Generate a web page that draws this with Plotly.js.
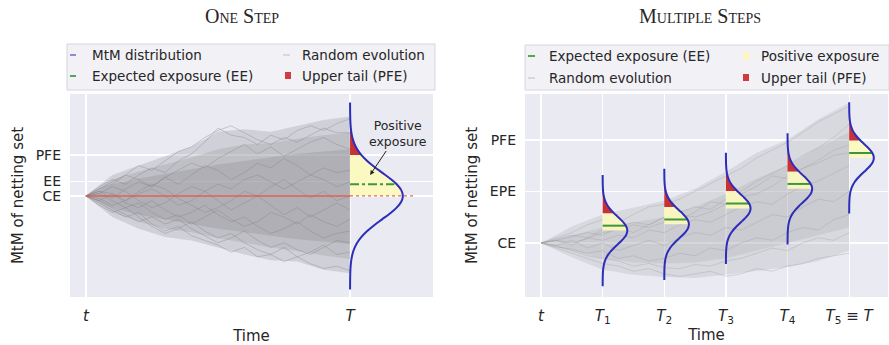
<!DOCTYPE html>
<html><head><meta charset="utf-8">
<script src="https://cdn.plot.ly/plotly-3.0.1.min.js"></script>
<style>html,body{margin:0;padding:0;background:#fff}</style>
</head><body><div id="chart" style="width:889px;height:345px"></div>
<script>
// ---------- DATA ----------
// distribution shape (relative density) on a standardised grid
const curveZ = [-4,-3.75,-3.5,-3.25,-3,-2.75,-2.5,-2.25,-2,-1.75,-1.5,-1.25,-1,-0.75,-0.5,-0.25,0,0.25,0.5,0.75,1,1.25,1.5,1.75,2,2.25,2.5,2.75,3,3.25,3.5,3.75,4];
const curveShape = [0.0003,0.0009,0.0022,0.0051,0.0111,0.0228,0.0439,0.0796,0.1353,0.2163,0.3247,0.4578,0.6065,0.7548,0.8825,0.9692,1,0.9692,0.8825,0.7548,0.6065,0.4578,0.3247,0.2163,0.1353,0.0796,0.0439,0.0228,0.0111,0.0051,0.0022,0.0009,0.0003];

// One step panel
const leftTickVals = [0, 0.62, 1.75];
const leftTickText = ['CE', 'EE', 'PFE'];
const leftTimeTicks = [0, 1];
const leftTimeText = ['<i>t</i>', '<i>T</i>'];
const leftTime = [0,0.1,0.2,0.3,0.4,0.5,0.6,0.7,0.8,0.9,1];
const leftOuterTop = [0,0.9,1.3,1.7,2.1,2.75,2.85,2.75,3.0,3.25,3.4];
const leftOuterBot = [0,-0.9,-1.4,-1.75,-1.9,-2.2,-2.5,-2.75,-2.8,-3.15,-3.3];
const leftMidTop = [0,0.7,1.05,1.35,1.65,2.0,2.2,2.25,2.45,2.6,2.7];
const leftMidBot = [0,-0.7,-1.1,-1.4,-1.55,-1.8,-2.0,-2.2,-2.35,-2.55,-2.7];
const leftCoreTop = [0,0.5,0.75,0.95,1.15,1.35,1.5,1.65,1.8,1.9,2.0];
const leftCoreBot = [0,-0.5,-0.8,-1.0,-1.2,-1.4,-1.55,-1.7,-1.85,-1.95,-2.05];
const leftPathTime = [0,0.05,0.1,0.15,0.2,0.25,0.3,0.35,0.4,0.45,0.5,0.55,0.6,0.65,0.7,0.75,0.8,0.85,0.9,0.95,1];
const leftPaths = [
  [0,0.4,0.7,0.5,0.9,1.2,1.0,1.5,1.8,2.3,2.9,2.6,2.5,2.2,2.6,2.4,2.8,3.0,2.8,3.1,3.3],
  [0,-0.3,-0.6,-0.9,-0.7,-1.2,-1.5,-1.3,-1.7,-1.9,-2.1,-2.4,-2.2,-2.6,-2.5,-2.8,-2.6,-2.9,-3.1,-3.0,-3.2],
  [0,0.2,-0.1,0.3,0.6,0.4,0.8,0.5,0.9,1.3,1.1,0.7,1.0,1.4,1.2,1.6,1.3,0.9,1.2,1.0,1.1],
  [0,-0.2,0.1,-0.3,-0.5,-0.2,-0.6,-0.9,-0.7,-0.4,-0.8,-1.1,-0.9,-1.3,-1.6,-1.4,-1.1,-1.5,-1.8,-1.6,-1.5],
  [0,0.3,0.5,0.9,0.7,0.4,0.8,1.1,1.4,1.2,1.6,1.9,2.2,1.8,2.1,1.7,2.0,2.3,2.5,2.2,2.0],
  [0,-0.4,-0.7,-0.5,-0.9,-1.3,-1.6,-1.4,-1.1,-1.5,-1.8,-1.6,-2.0,-2.3,-2.5,-2.2,-2.6,-2.4,-2.1,-2.5,-2.4],
  [0,0.1,0.4,0.2,-0.2,-0.5,-0.3,0.1,0.4,0.2,-0.2,-0.6,-0.3,0.0,0.4,0.7,0.3,-0.1,0.2,-0.2,0.0],
  [0,-0.1,-0.4,-0.2,0.2,0.5,0.3,-0.1,-0.4,-0.7,-0.5,-0.2,0.2,0.0,-0.4,-0.8,-0.5,-0.9,-0.6,-0.3,-0.6],
  [0,0.3,0.6,0.9,1.3,1.1,1.5,1.9,2.1,2.5,2.8,3.0,2.7,2.4,2.2,2.5,2.3,2.6,2.9,2.7,2.7],
  [0,-0.2,-0.5,-0.8,-1.1,-0.9,-1.2,-1.0,-1.4,-1.7,-2.0,-1.8,-1.5,-1.9,-2.2,-2.0,-2.3,-2.5,-2.2,-1.9,-2.0],
  [0,0.2,0.1,-0.2,0.1,0.3,0.0,-0.4,-0.2,0.2,0.5,0.3,0.7,0.9,0.6,0.3,0.6,0.9,0.7,0.4,0.6],
  [0,0.1,-0.2,-0.5,-0.3,-0.7,-1.0,-0.8,-1.2,-0.9,-0.6,-1.0,-1.3,-1.1,-0.7,-0.9,-1.2,-0.8,-1.1,-1.3,-1.0]
];
const leftDistTime = 1;
const leftDistMean = 0;
const leftDistSpread = 1;
const leftPFEz = 1.75;
const leftEEz = 0.5;
const leftCE = 0;

// Multiple steps panel
const rightTickVals = [0, 1, 2];
const rightTickText = ['CE', 'EPE', 'PFE'];
const rightTimeTicks = [0, 1, 2, 3, 4, 5];
const rightTimeText = ['<i>t</i>', '<i>T</i><sub>1</sub>', '<i>T</i><sub>2</sub>', '<i>T</i><sub>3</sub>', '<i>T</i><sub>4</sub>', '<i>T</i><sub>5</sub> ≡ <i>T</i>'];
const rightTime = [0,0.5,1,1.5,2,2.5,3,3.5,4,4.5,5];
const rightOuterTop = [0,0.32,0.55,0.68,0.82,1.05,1.38,1.75,2.0,2.4,2.72];
const rightOuterBot = [0,-0.28,-0.52,-0.62,-0.66,-0.68,-0.62,-0.55,-0.47,-0.35,-0.15];
const rightCoreTop = [0,0.15,0.3,0.4,0.5,0.7,0.95,1.25,1.5,1.85,2.15];
const rightCoreBot = [0,-0.15,-0.3,-0.38,-0.4,-0.38,-0.3,-0.15,0.0,0.15,0.3];
const rightPathTime = [0,0.25,0.5,0.75,1,1.25,1.5,1.75,2,2.25,2.5,2.75,3,3.25,3.5,3.75,4,4.25,4.5,4.75,5];
const rightPaths = [
  [0,0.1,0.2,0.35,0.45,0.4,0.55,0.7,0.75,0.85,1.0,1.15,1.3,1.45,1.65,1.8,1.95,2.15,2.35,2.5,2.65],
  [0,-0.1,-0.2,-0.3,-0.4,-0.45,-0.55,-0.5,-0.6,-0.65,-0.6,-0.55,-0.65,-0.6,-0.5,-0.55,-0.45,-0.4,-0.3,-0.25,-0.2],
  [0,0.05,-0.05,0.1,0.05,0.15,0.1,0.25,0.2,0.35,0.45,0.4,0.55,0.7,0.8,0.75,0.95,1.1,1.2,1.35,1.5],
  [0,-0.05,0.05,-0.1,0.0,-0.15,-0.05,0.05,-0.05,0.1,0.2,0.15,0.3,0.25,0.4,0.55,0.5,0.7,0.85,0.8,1.0],
  [0,0.08,0.15,0.1,0.25,0.3,0.2,0.35,0.5,0.45,0.6,0.8,0.75,0.95,1.1,1.3,1.25,1.45,1.6,1.8,1.9],
  [0,-0.08,-0.12,-0.2,-0.15,-0.3,-0.25,-0.35,-0.3,-0.2,-0.25,-0.1,-0.15,0.0,0.1,0.05,0.2,0.3,0.25,0.45,0.55],
  [0,0.05,0.12,0.2,0.15,0.3,0.4,0.35,0.5,0.6,0.7,0.65,0.85,1.0,1.2,1.35,1.5,1.7,1.85,2.05,2.3],
  [0,-0.06,-0.15,-0.25,-0.3,-0.35,-0.45,-0.4,-0.48,-0.5,-0.42,-0.45,-0.35,-0.3,-0.2,-0.1,-0.15,0.0,0.1,0.05,0.2],
  [0,0.05,0.0,0.08,0.2,0.25,0.35,0.3,0.4,0.55,0.5,0.6,0.75,0.9,0.95,1.1,1.3,1.45,1.55,1.7,1.75]
];
const rightDistTimes = [1, 2, 3, 4, 5];
const rightDistMeans = [0.24, 0.36, 0.67, 1.05, 1.65];
const rightDistSpread = 0.27;
const rightPFEz = 1.25;
const rightEEz = 0.35;

// ---------- STYLE ----------
const W = 889, H = 345;
const FONT = 'DejaVu Sans';
const TXT = '#262626';
const BG = '#eaeaf2';
const BLUE = 'rgb(45,45,185)';
const GREEN = 'rgb(60,150,60)';
const RED = 'rgb(200,50,55)';
const YELLOW = 'rgba(253,248,190,0.92)';
const leftCurveW = 0.2, rightCurveW = 0.4;

function shapeAt(z) {
  if (z <= curveZ[0]) return curveShape[0];
  for (let i = 0; i < curveZ.length - 1; i++) {
    if (z >= curveZ[i] && z <= curveZ[i + 1]) {
      const f = (z - curveZ[i]) / (curveZ[i + 1] - curveZ[i]);
      return curveShape[i] + f * (curveShape[i + 1] - curveShape[i]);
    }
  }
  return curveShape[curveShape.length - 1];
}
function region(base, mean, s, w, z0, z1) {
  const xs = [base, base + w * shapeAt(z0)], ys = [mean + s * z0, mean + s * z0];
  curveZ.forEach((z, i) => { if (z > z0 && z < z1) { xs.push(base + w * curveShape[i]); ys.push(mean + s * z); } });
  xs.push(base + w * shapeAt(z1), base); ys.push(mean + s * z1, mean + s * z1);
  return { xs, ys };
}
function bandTrace(t, top, bot, color, xa, ya) {
  return { type: 'scatter', mode: 'lines', x: t.concat(t.slice().reverse()), y: top.concat(bot.slice().reverse()),
    fill: 'toself', fillcolor: color, line: { width: 0 }, hoverinfo: 'skip', showlegend: false, xaxis: xa, yaxis: ya };
}
function fillTrace(r, color, xa, ya) {
  return { type: 'scatter', mode: 'lines', x: r.xs, y: r.ys, fill: 'toself', fillcolor: color,
    line: { width: 0 }, hoverinfo: 'skip', showlegend: false, xaxis: xa, yaxis: ya };
}

const traces = [];
// left cloud
traces.push(bandTrace(leftTime, leftOuterTop, leftOuterBot, 'rgba(150,150,155,0.30)', 'x', 'y'));
traces.push(bandTrace(leftTime, leftMidTop, leftMidBot, 'rgba(140,140,145,0.25)', 'x', 'y'));
traces.push(bandTrace(leftTime, leftCoreTop, leftCoreBot, 'rgba(130,130,135,0.26)', 'x', 'y'));
leftPaths.forEach(p => traces.push({ type: 'scatter', mode: 'lines', x: leftPathTime, y: p,
  line: { color: 'rgba(125,125,130,0.45)', width: 0.8 }, hoverinfo: 'skip', showlegend: false, xaxis: 'x', yaxis: 'y' }));
// left distribution fills
traces.push(fillTrace(region(leftDistTime, leftDistMean, leftDistSpread, leftCurveW, 0, leftPFEz), YELLOW, 'x', 'y'));
traces.push(fillTrace(region(leftDistTime, leftDistMean, leftDistSpread, leftCurveW, leftPFEz, 4), RED, 'x', 'y'));
// CE line
traces.push({ type: 'scatter', mode: 'lines', x: [0, leftDistTime], y: [leftCE, leftCE],
  line: { color: 'rgba(225,85,75,0.9)', width: 1.4 }, hoverinfo: 'skip', showlegend: false, xaxis: 'x', yaxis: 'y' });
traces.push({ type: 'scatter', mode: 'lines', x: [leftDistTime, leftDistTime + 0.25], y: [leftCE, leftCE],
  line: { color: 'rgba(225,85,75,0.9)', width: 1.2, dash: 'dot' }, hoverinfo: 'skip', showlegend: false, xaxis: 'x', yaxis: 'y' });
// EE
const leftEEy = leftDistMean + leftDistSpread * leftEEz;
traces.push({ type: 'scatter', mode: 'lines', x: [leftDistTime, leftDistTime + leftCurveW * shapeAt(leftEEz) * 0.95], y: [leftEEy, leftEEy],
  line: { color: GREEN, width: 2, dash: 'dashdot' }, hoverinfo: 'skip', showlegend: false, xaxis: 'x', yaxis: 'y' });
// blue curve
traces.push({ type: 'scatter', mode: 'lines', x: curveShape.map(v => leftDistTime + leftCurveW * v),
  y: curveZ.map(z => leftDistMean + leftDistSpread * z), line: { color: BLUE, width: 2, shape: 'spline' },
  hoverinfo: 'skip', showlegend: false, xaxis: 'x', yaxis: 'y' });

// right cloud
traces.push(bandTrace(rightTime, rightOuterTop, rightOuterBot, 'rgba(170,170,175,0.28)', 'x2', 'y2'));
traces.push(bandTrace(rightTime, rightCoreTop, rightCoreBot, 'rgba(160,160,165,0.22)', 'x2', 'y2'));
rightPaths.forEach(p => traces.push({ type: 'scatter', mode: 'lines', x: rightPathTime, y: p,
  line: { color: 'rgba(150,150,155,0.40)', width: 0.8 }, hoverinfo: 'skip', showlegend: false, xaxis: 'x2', yaxis: 'y2' }));
rightDistTimes.forEach((tt, k) => {
  const m = rightDistMeans[k], s = rightDistSpread;
  traces.push(fillTrace(region(tt, m, s, rightCurveW, 0, rightPFEz), YELLOW, 'x2', 'y2'));
  traces.push(fillTrace(region(tt, m, s, rightCurveW, rightPFEz, 4), RED, 'x2', 'y2'));
  const ey = m + s * rightEEz;
  traces.push({ type: 'scatter', mode: 'lines', x: [tt, tt + rightCurveW * shapeAt(rightEEz)], y: [ey, ey],
    line: { color: GREEN, width: 2 }, hoverinfo: 'skip', showlegend: false, xaxis: 'x2', yaxis: 'y2' });
  traces.push({ type: 'scatter', mode: 'lines', x: curveShape.map(v => tt + rightCurveW * v),
    y: curveZ.map(z => m + s * z), line: { color: BLUE, width: 2, shape: 'spline' },
    hoverinfo: 'skip', showlegend: false, xaxis: 'x2', yaxis: 'y2' });
});

// ---------- LAYOUT ----------
const px = v => v / W, py = v => (H - v) / H;
const yDom = [py(297), py(94)];
function xax(dom, range, tv, tt, standoff) {
  return { domain: dom, range: range, tickvals: tv, ticktext: tt, showgrid: true, gridcolor: '#ffffff', gridwidth: 1.3,
    zeroline: false, showline: false, ticks: '', fixedrange: true,
    tickfont: { family: FONT, size: 15, color: TXT }, ticklabelstandoff: 8,
    title: { text: 'Time', font: { family: FONT, size: 15, color: TXT }, standoff: standoff } };
}
function yax(anchor, range, tv, tt) {
  return { domain: yDom, anchor: anchor, range: range, tickvals: tv, ticktext: tt, showgrid: true, gridcolor: '#ffffff', gridwidth: 1.3,
    zeroline: false, showline: false, ticks: '', fixedrange: true,
    tickfont: { family: FONT, size: 14, color: TXT }, ticklabelstandoff: 8,
    title: { text: 'MtM of netting set', font: { family: FONT, size: 15, color: TXT }, standoff: 8 } };
}

const shapes = [];
const annotations = [];
function legendBox(x0, x1, y0, y1) {
  shapes.push({ type: 'rect', xref: 'paper', yref: 'paper', x0: px(x0), x1: px(x1), y0: py(y1), y1: py(y0),
    fillcolor: 'rgba(240,240,246,0.95)', line: { color: 'rgb(214,214,222)', width: 1 }, layer: 'above' });
}
function legDash(x0, x1, y, color) {
  shapes.push({ type: 'line', xref: 'paper', yref: 'paper', x0: px(x0), x1: px(x1), y0: py(y), y1: py(y),
    line: { color: color, width: 2 }, layer: 'above' });
}
function legRect(x0, x1, y0, y1, color) {
  shapes.push({ type: 'rect', xref: 'paper', yref: 'paper', x0: px(x0), x1: px(x1), y0: py(y1), y1: py(y0),
    fillcolor: color, line: { width: 0 }, layer: 'above' });
}
function legText(x, y, text) {
  annotations.push({ xref: 'paper', yref: 'paper', x: px(x), y: py(y), xanchor: 'left', yanchor: 'middle',
    text: text, showarrow: false, font: { family: FONT, size: 13.5, color: TXT } });
}
// left legend
legendBox(67, 435, 44, 90);
legDash(70, 76, 55, 'rgb(140,140,215)'); legText(90, 55, 'MtM distribution');
legDash(70, 76, 76, 'rgb(85,165,85)'); legText(90, 76, 'Expected exposure (EE)');
legDash(283, 290, 55, 'rgb(215,215,222)'); legText(300, 55, 'Random evolution');
legRect(285, 291, 72, 79, 'rgb(205,60,65)'); legText(300, 76, 'Upper tail (PFE)');
// right legend
legendBox(525, 889, 45, 90);
legDash(528, 535, 56, 'rgb(85,165,85)'); legText(547, 56, 'Expected exposure (EE)');
legDash(528, 535, 78, 'rgb(215,215,222)'); legText(547, 78, 'Random evolution');
legRect(743, 749, 52, 60, 'rgb(252,246,190)'); legText(759, 56, 'Positive exposure');
legRect(743, 749, 74, 81, 'rgb(205,60,65)'); legText(759, 78, 'Upper tail (PFE)');

// subplot titles
annotations.push({ xref: 'paper', yref: 'paper', x: px(242), y: py(16), xanchor: 'center', yanchor: 'middle', showarrow: false,
  text: 'One Step', font: { family: 'Liberation Serif', size: 20, color: TXT, variant: 'small-caps' } });
annotations.push({ xref: 'paper', yref: 'paper', x: px(700), y: py(16), xanchor: 'center', yanchor: 'middle', showarrow: false,
  text: 'Multiple Steps', font: { family: 'Liberation Serif', size: 20, color: TXT, variant: 'small-caps' } });
// positive exposure callout
annotations.push({ xref: 'x', yref: 'y', axref: 'x', ayref: 'y', x: 1.076, y: 0.9, ax: 1.18, ay: 2.65,
  text: 'Positive<br>exposure', showarrow: true, arrowhead: 2, arrowsize: 0.9, arrowwidth: 1, arrowcolor: '#222',
  font: { family: FONT, size: 12.5, color: TXT } });

const layout = {
  width: W, height: H, margin: { l: 0, r: 0, t: 0, b: 0 }, paper_bgcolor: '#ffffff', plot_bgcolor: BG,
  showlegend: false,
  xaxis: Object.assign(xax([px(70), px(433)], [-0.06, 1.314], leftTimeTicks, leftTimeText, 6), { anchor: 'y' }),
  yaxis: yax('x', [-4.32, 4.36], leftTickVals, leftTickText),
  xaxis2: Object.assign(xax([px(525), px(888)], [-0.26, 5.63], rightTimeTicks, rightTimeText, 2), { anchor: 'y2' }),
  yaxis2: yax('x2', [-1.05, 2.89], rightTickVals, rightTickText),
  shapes: shapes, annotations: annotations
};
Plotly.newPlot('chart', traces, layout, { displayModeBar: false, staticPlot: true });
</script></body></html>
